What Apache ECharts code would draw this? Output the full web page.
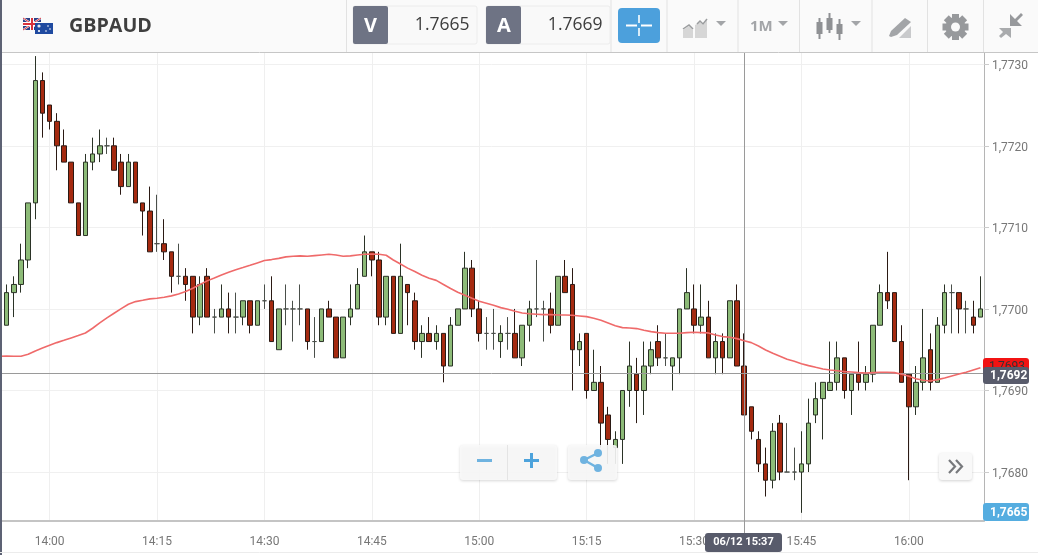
<!DOCTYPE html>
<html><head><meta charset="utf-8">
<style>html,body{margin:0;padding:0;background:#fff;overflow:hidden}#c{width:1038px;height:555px}</style>
<script src="https://cdn.jsdelivr.net/npm/echarts@6/dist/echarts.min.js"></script>
</head><body><div id="c"></div>
<script>
const symbolName = 'GBPAUD';
const bidPrice = '1.7665';
const askPrice = '1.7669';
const crossTime = '15:37';
const crossTimeLabel = '06/12 15:37';
const crossPrice = 1.769215;
const crossPriceLabel = '1,7692';
const lastPriceLabel = '1,7693';
const bidPriceLabel = '1,7665';
const yTicks = [1.7680, 1.7690, 1.7700, 1.7710, 1.7720, 1.7730];

// the first minute (13:53) only has the moving average showing at the left edge
const opens = ['-',
1.7698,1.7702,1.7703,1.7706,1.7713,1.7728,1.7725,1.7723,1.7720,1.7718,
1.7713,1.7709,1.7718,1.7719,1.7720,1.7720,1.7718,1.7715,1.7718,1.7713,
1.7712,1.7708,1.7708,1.7707,1.7704,1.7704,1.7704,1.7699,1.7704,1.7699,
1.7699,1.7700,1.7699,1.7699,1.7701,1.7698,1.7701,1.7701,1.7695,1.7700,
1.7700,1.7700,1.7700,1.7696,1.7696,1.7700,1.7699,1.7694,1.7699,1.7700,
1.7704,1.7707,1.7706,1.7699,1.7704,1.7697,1.7703,1.7701,1.7696,1.7697,
1.7696,1.7697,1.7693,1.7698,1.7700,1.7705,1.7700,1.7697,1.7697,1.7696,
1.7697,1.7697,1.7694,1.7698,1.7700,1.7700,1.7700,1.7698,1.7704,1.7703,
1.7695,1.7697,1.7690,1.7691,1.7687,1.7683,1.7684,1.7690,1.7692,1.7690,
1.7693,1.7696,1.7694,1.7693,1.7694,1.7700,1.7700,1.7698,1.7699,1.7694,
1.7696,1.7694,1.7701,1.7693,1.7688,1.7684,1.7681,1.7679,1.7686,1.7680,
1.7680,1.7680,1.7681,1.7687,1.7689,1.7690,1.7691,1.7694,1.7690,1.7692,
1.7691,1.7692,1.7698,1.7702,1.7702,1.7696,1.7692,1.7688,1.7691,1.7695,
1.7691,1.7698,1.7702,1.7702,1.7700,1.7699,1.7699];
const closes = ['-',
1.7702,1.7703,1.7706,1.7713,1.7728,1.7724,1.7723,1.7720,1.7718,1.7713,
1.7709,1.7718,1.7719,1.7720,1.7720,1.7717,1.7715,1.7718,1.7713,1.7712,
1.7707,1.7708,1.7707,1.7704,1.7704,1.7703,1.7699,1.7703,1.7699,1.7699,
1.7700,1.7699,1.7699,1.7701,1.7698,1.7701,1.7701,1.7696,1.7700,1.7700,
1.7700,1.7700,1.7696,1.7696,1.7700,1.7699,1.7694,1.7699,1.7700,1.7703,
1.7707,1.7706,1.7699,1.7704,1.7697,1.7704,1.7702,1.7696,1.7697,1.7696,
1.7697,1.7693,1.7698,1.7700,1.7705,1.7700,1.7697,1.7697,1.7697,1.7697,
1.7697,1.7694,1.7698,1.7700,1.7700,1.7700,1.7698,1.7704,1.7702,1.7695,
1.7696,1.7690,1.7691,1.7686,1.7684,1.7684,1.7690,1.7693,1.7690,1.7693,
1.7695,1.7694,1.7694,1.7694,1.7700,1.7702,1.7698,1.7699,1.7694,1.7696,
1.7694,1.7701,1.7693,1.7687,1.7685,1.7681,1.7679,1.7685,1.7680,1.7680,
1.7680,1.7681,1.7686,1.7689,1.7691,1.7691,1.7694,1.7690,1.7692,1.7691,
1.7692,1.7698,1.7702,1.7701,1.7696,1.7691,1.7688,1.7691,1.7694,1.7691,
1.7698,1.7702,1.7702,1.7700,1.7700,1.7698,1.7700];
const lows = ['-',
1.7698,1.7699,1.7702,1.7705,1.7711,1.7721,1.7722,1.7717,1.7718,1.7713,
1.7709,1.7709,1.7717,1.7718,1.7719,1.7717,1.7714,1.7715,1.7713,1.7709,
1.7707,1.7707,1.7706,1.7702,1.7703,1.7701,1.7697,1.7698,1.7699,1.7697,
1.7699,1.7697,1.7697,1.7698,1.7697,1.7698,1.7700,1.7696,1.7695,1.7698,
1.7696,1.7698,1.7695,1.7694,1.7696,1.7699,1.7694,1.7694,1.7698,1.7700,
1.7704,1.7704,1.7698,1.7698,1.7697,1.7697,1.7698,1.7695,1.7694,1.7696,
1.7695,1.7691,1.7693,1.7698,1.7700,1.7699,1.7696,1.7695,1.7695,1.7694,
1.7695,1.7694,1.7693,1.7696,1.7699,1.7696,1.7697,1.7698,1.7702,1.7690,
1.7693,1.7689,1.7690,1.7683,1.7681,1.7681,1.7681,1.7688,1.7686,1.7687,
1.7692,1.7693,1.7693,1.7690,1.7692,1.7700,1.7697,1.7697,1.7694,1.7692,
1.7692,1.7694,1.7693,1.7687,1.7684,1.7680,1.7677,1.7678,1.7679,1.7680,
1.7679,1.7675,1.7680,1.7686,1.7684,1.7690,1.7690,1.7689,1.7687,1.7690,
1.7690,1.7691,1.7698,1.7700,1.7696,1.7691,1.7679,1.7687,1.7690,1.7690,
1.7691,1.7697,1.7697,1.7697,1.7697,1.7697,1.7699];
const highs = ['-',
1.7703,1.7704,1.7708,1.7713,1.7731,1.7729,1.7725,1.7724,1.7722,1.7718,
1.7713,1.7719,1.7721,1.7722,1.7721,1.7721,1.7719,1.7719,1.7718,1.7713,
1.7715,1.7714,1.7711,1.7707,1.7708,1.7705,1.7704,1.7704,1.7705,1.7700,
1.7703,1.7702,1.7702,1.7701,1.7701,1.7701,1.7703,1.7704,1.7700,1.7703,
1.7701,1.7703,1.7700,1.7699,1.7700,1.7701,1.7699,1.7699,1.7703,1.7705,
1.7709,1.7707,1.7707,1.7704,1.7704,1.7708,1.7703,1.7702,1.7698,1.7699,
1.7698,1.7697,1.7699,1.7700,1.7707,1.7706,1.7701,1.7699,1.7700,1.7698,
1.7699,1.7700,1.7698,1.7701,1.7706,1.7701,1.7702,1.7704,1.7706,1.7705,
1.7697,1.7697,1.7695,1.7693,1.7688,1.7685,1.7690,1.7696,1.7694,1.7696,
1.7696,1.7698,1.7697,1.7694,1.7700,1.7705,1.7703,1.7703,1.7701,1.7697,
1.7697,1.7701,1.7703,1.7697,1.7688,1.7685,1.7683,1.7686,1.7687,1.7686,
1.7683,1.7685,1.7689,1.7691,1.7691,1.7696,1.7696,1.7694,1.7692,1.7696,
1.7693,1.7698,1.7703,1.7707,1.7702,1.7698,1.7692,1.7693,1.7700,1.7697,
1.7699,1.7703,1.7703,1.7702,1.7701,1.7701,1.7704];
const movingAverage = [1.76942,
1.769423,1.76942,1.76942,1.769444,1.769485,1.76952,1.769554,1.769587,1.769615,1.769644,
1.769673,1.769705,1.769763,1.769828,1.76989,1.769947,1.770004,1.770057,1.77009,1.770106,
1.770123,1.77013,1.770143,1.77016,1.770184,1.770213,1.770254,1.770299,1.770344,1.77038,
1.770417,1.77045,1.77048,1.770507,1.770535,1.770564,1.770593,1.770605,1.77062,1.770638,
1.770646,1.77065,1.770646,1.770654,1.770662,1.77067,1.770662,1.770646,1.77065,1.770662,
1.77067,1.770674,1.77067,1.770658,1.7706,1.77055,1.7705,1.770458,1.770413,1.770376,
1.77035,1.7703,1.77025,1.770205,1.770168,1.77013,1.770094,1.77007,1.770045,1.770016,
1.769996,1.769971,1.769951,1.76994,1.769935,1.76993,1.76993,1.769926,1.769926,1.769922,
1.769914,1.769906,1.769885,1.769861,1.769828,1.769795,1.769771,1.769767,1.769759,1.769738,
1.769722,1.76971,1.769701,1.769701,1.769701,1.76971,1.769714,1.76971,1.769706,1.769681,
1.769661,1.769652,1.769636,1.769611,1.769587,1.769546,1.769497,1.769456,1.769419,1.769382,
1.769358,1.769329,1.769305,1.769284,1.769264,1.769252,1.769243,1.769231,1.769227,1.769219,
1.769215,1.769219,1.769223,1.769223,1.769219,1.769198,1.769174,1.769145,1.769125,1.769117,
1.769133,1.769153,1.769178,1.769202,1.769223,1.769252,1.76928];

const times = [];
for (let i = 0; i < opens.length; i++) {
  const m = 13 * 60 + 53 + i;
  times.push(String(Math.floor(m / 60)).padStart(2, '0') + ':' + String(m % 60).padStart(2, '0'));
}
const isQuarter = (i) => (i + 53) % 15 === 0;

const sans = '"Open Sans", sans-serif';
const rob = 'Roboto, sans-serif';
const grey = '#a3a5a8';
const R = (x, y, w, h, fill, extra) => Object.assign({type:'rect', shape:{x, y, width:w, height:h, r:(extra&&extra.r)||0}, style:Object.assign({fill}, (extra&&extra.style)||{}), silent:true}, {});
const T = (text, x, y, font, fill, align) => ({type:'text', style:{text, x, y, font, fill, align:align||'left', verticalAlign:'middle'}, silent:true});
const P = (pts, fill) => ({type:'polygon', shape:{points:pts}, style:{fill}, silent:true});
const L = (x1, y1, x2, y2, stroke, w) => ({type:'line', shape:{x1, y1, x2, y2}, style:{stroke, lineWidth:w||1}, silent:true});
const caret = (cx) => P([[cx-5,21],[cx+5,21],[cx,26]], grey);

const gfx = [
  // toolbar background
  R(0,0,1038,52,'#fafafa'), L(0,52.5,1038,52.5,'#c6c6c6',1),
  // left strip
  R(0,0,2,555,'#5d6274'),
  // flags
  R(23,18,18,12,'#2b3f87'),
  L(23,18,41,30,'#fff',2), L(41,18,23,30,'#fff',2), L(23,18,41,30,'#d9323c',1), L(41,18,23,30,'#d9323c',1),
  R(30,18,4,12,'#fff'), R(23,22,18,4,'#fff'), R(31,18,2,12,'#d9323c'), R(23,23,18,2,'#d9323c'),
  R(35,23,18,11,'#1f4aa0'),
  {type:'circle', shape:{cx:39,cy:26,r:1.6}, style:{fill:'#e8e8f0'}, silent:true},
  {type:'circle', shape:{cx:48,cy:26,r:.8}, style:{fill:'#fff'}, silent:true},
  {type:'circle', shape:{cx:50,cy:29,r:.8}, style:{fill:'#fff'}, silent:true},
  {type:'circle', shape:{cx:46,cy:31,r:.8}, style:{fill:'#fff'}, silent:true},
  {type:'circle', shape:{cx:39,cy:31,r:1.1}, style:{fill:'#fff'}, silent:true},
  T(symbolName, 69, 26, 'bold 19.7px '+sans, '#3f3f3f'),
  // separators
  ...[346.5,611,667,738,799.5,872,927.5,983.5].map(x => L(x,0,x,52,'#e2e2e2',1)),
  // V / A quote boxes
  {type:'rect', shape:{x:353,y:6,width:124,height:38,r:2}, style:{fill:'#f9f9f9',stroke:'#ececec'}, silent:true},
  R(353,6,35,38,'#6e7384',{r:2}), T('V',370.5,26,'bold 20px '+sans,'#fff','center'),
  T(bidPrice,469.5,25.5,'17.5px '+sans,'#3d3d3d','right'),
  {type:'rect', shape:{x:486,y:6,width:124,height:38,r:2}, style:{fill:'#f9f9f9',stroke:'#ececec'}, silent:true},
  R(486,6,35,38,'#6e7384',{r:2}), T('A',504,26,'bold 20px '+sans,'#fff','center'),
  T(askPrice,602.5,25.5,'17.5px '+sans,'#3d3d3d','right'),
  // blue crosshair button
  R(618,8,42,35,'#4ca0dc',{r:4}),
  R(626,24.5,11,2,'#fff'), R(641,24.5,11,2,'#fff'), R(638,15,2,8,'#d8ecf8'), R(638,28,2,8,'#d8ecf8'),
  // chart type icon
  P([[683,38],[683,30],[689,26],[693,30],[693,38]],'#d6d6d6'),
  P([[695,38],[695,25],[700,22],[703,25],[707,20],[707,38]],'#d6d6d6'),
  {type:'polyline', shape:{points:[[683,29],[689,25],[693,29]]}, style:{stroke:'#9a9c9e',fill:'none',lineWidth:1.5}, silent:true},
  {type:'polyline', shape:{points:[[697,24],[700,21],[703,24],[707,19]]}, style:{stroke:'#9a9c9e',fill:'none',lineWidth:1.5}, silent:true},
  caret(721),
  // period
  T('1M',750,27,'bold 15px '+sans,grey), caret(783),
  // candle icon
  R(818.5,18,2,21,'#8f9194'), R(816.5,22,6,12,'#8f9194'),
  R(828.5,13,2,20,'#8f9194'), R(826.5,18,6,12,'#8f9194'),
  R(838.5,19,2,21,'#8f9194'), R(836.5,24,6,10,'#8f9194'),
  caret(856),
  // draw icon
  P([[889,36],[891,31],[905,18],[911,22],[897,35],[891,37]],'#a3a5a8'),
  P([[899,38],[911,26],[911,38]],'#c9cacc'),
  // gear
  ...[0,45,90,135].map(a => ({type:'rect', shape:{x:952,y:14,width:7,height:26}, rotation:a*Math.PI/180, originX:955.5, originY:27, style:{fill:'#97999c'}, silent:true})),
  {type:'circle', shape:{cx:955.5,cy:27,r:10}, style:{fill:'#97999c'}, silent:true},
  {type:'circle', shape:{cx:955.5,cy:27,r:4.5}, style:{fill:'#fafafa'}, silent:true},
  // collapse arrows
  P([[1010,14],[1015,19],[1021,13],[1023,15],[1017,21],[1022,26],[1010,26]],'#97999c'),
  P([[999,28],[1011,28],[1011,38],[1006,34],[1001,38],[999,36],[1003,32]],'#a9abad'),

  // crosshair stub below the axis
  L(744.5,521,744.5,533,'#999',1),
  // bottom strip
  L(0,552.5,1038,552.5,'#ececec',1),
  // price labels
  R(983,358,46,16,'#f21313',{r:3}),
  T(lastPriceLabel,989,367,'12px '+rob,'#333'),
  R(983,367,46,17,'#585b6b',{r:3}),
  T(crossPriceLabel,990,376,'bold 12px '+rob,'#fff'),
  R(983,503,46,18,'#55ade0',{r:3}),
  T(bidPriceLabel,990,512.5,'bold 12px '+rob,'#fff'),
  // time label
  R(705,533,77,19,'#585b6b',{r:3}),
  T(crossTimeLabel,743.5,542,'bold 11px '+rob,'#fff','center'),
  // zoom buttons
  {type:'rect', shape:{x:460,y:445,width:97,height:35,r:3}, style:{fill:'rgba(250,250,250,0.9)',shadowBlur:3,shadowColor:'rgba(0,0,0,0.18)',shadowOffsetY:1}, silent:true},
  L(507.5,445,507.5,480,'#e4e4e4',1),
  R(477,459,15,3,'#6fb3e0'),
  R(524,459,15,3,'#4da3dc'), R(530,453,3,15,'#4da3dc'),
  {type:'rect', shape:{x:568,y:445,width:49,height:35,r:3}, style:{fill:'rgba(250,250,250,0.9)',shadowBlur:3,shadowColor:'rgba(0,0,0,0.18)',shadowOffsetY:1}, silent:true},
  L(584,460,598,453,'#6fb3e0',2.5), L(584,460,598,468,'#6fb3e0',2.5),
  {type:'circle', shape:{cx:584,cy:460,r:4}, style:{fill:'#6fb3e0'}, silent:true},
  {type:'circle', shape:{cx:598,cy:453,r:4}, style:{fill:'#6fb3e0'}, silent:true},
  {type:'circle', shape:{cx:598,cy:468,r:4}, style:{fill:'#6fb3e0'}, silent:true},
  // scroll button
  {type:'rect', shape:{x:939,y:453,width:33,height:27,r:3}, style:{fill:'#f9f9f9',shadowBlur:3,shadowColor:'rgba(0,0,0,0.18)',shadowOffsetY:1}, silent:true},
  {type:'polyline', shape:{points:[[949,460],[955,466.5],[949,473]]}, style:{stroke:'#77797c',fill:'none',lineWidth:2.2}, silent:true},
  {type:'polyline', shape:{points:[[956,460],[962,466.5],[956,473]]}, style:{stroke:'#77797c',fill:'none',lineWidth:2.2}, silent:true}
];

const chart = echarts.init(document.getElementById('c'), null, {renderer:'canvas'});
chart.setOption({
  animation:false,
  backgroundColor:'#ffffff',
  grid:{left:-4.06, width:988.06, top:52, height:469, containLabel:false, outerBoundsMode:'none'},
  xAxis:{
    type:'category', data:times, boundaryGap:true,
    axisLine:{lineStyle:{color:'#c4c4c4',width:2}},
    axisTick:{interval:(i)=>isQuarter(i), alignWithLabel:true, length:4, lineStyle:{color:'#bbb'}},
    axisLabel:{interval:(i)=>isQuarter(i), color:'#777', fontFamily:'Roboto, sans-serif', fontSize:12, margin:15},
    splitLine:{show:true, interval:(i)=>isQuarter(i), alignWithLabel:true, lineStyle:{color:'#efefef',width:1}}
  },
  yAxis:{
    type:'value', position:'right', scale:true, min:1.7674, max:1.77315,
    axisLine:{show:true, lineStyle:{color:'#b5b5b5',width:1}},
    axisTick:{show:true, customValues:yTicks, length:5, lineStyle:{color:'#ccc'}},
    axisLabel:{customValues:yTicks, color:'#777', fontFamily:'Roboto, sans-serif', fontSize:12, margin:8,
      formatter:(v)=>'{a|'+v.toFixed(4).replace('.',',')+'}',
      rich:{a:{color:'#777', fontFamily:'Roboto, sans-serif', fontSize:12, padding:[4,0,0,0]}}},
    splitLine:{show:true, lineStyle:{color:'#f0f0f0',width:1}}
  },
  series:[
    {type:'candlestick', name:symbolName,
      data:opens.map((o,i)=>[o,closes[i],lows[i],highs[i]]),
      barWidth:5,
      itemStyle:{color:'#8dbb78',color0:'#a52a10',borderColor:'#2b3327',borderColor0:'#2b1a14',borderColorDoji:'#4a4f4a',borderWidth:1},
      markLine:{silent:true, symbol:'none', animation:false, precision:6, label:{show:false},
        lineStyle:{color:'#9a9a9a',width:1,type:'solid'},
        data:[{xAxis:crossTime},{yAxis:crossPrice}]}
    },
    {type:'line', name:'MA', data:movingAverage, showSymbol:false, symbol:'none', smooth:false,
      lineStyle:{color:'#ef6a6a',width:1.6}, z:5}
  ],
  graphic:{elements:gfx.map(e=>Object.assign({z:100},e))}
});
</script>
</body></html>
